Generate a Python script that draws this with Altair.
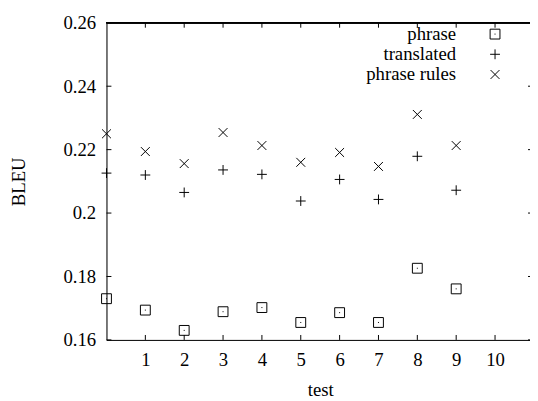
import altair as alt
import pandas as pd

tests = list(range(10))
series_names = ["phrase", "translated", "phrase rules"]
phrase = [0.1730, 0.1694, 0.1630, 0.1689, 0.1702, 0.1655, 0.1686, 0.1655, 0.1826, 0.1761]
translated = [0.2126, 0.2120, 0.2065, 0.2136, 0.2122, 0.2038, 0.2106, 0.2043, 0.2179, 0.2072]
phrase_rules = [0.2250, 0.2194, 0.2156, 0.2254, 0.2213, 0.2160, 0.2191, 0.2147, 0.2311, 0.2213]
x_ticks = [1, 2, 3, 4, 5, 6, 7, 8, 9, 10]
y_ticks = [0.16, 0.18, 0.20, 0.22, 0.24, 0.26]

W, H = 430, 322
FONT = "Liberation Serif, Times New Roman, DejaVu Serif, serif"
FS = 19

rows = []
for name, vals in zip(series_names, [phrase, translated, phrase_rules]):
    for t, v in zip(tests, vals):
        rows.append({"test": t, "BLEU": v, "series": name})
df = pd.DataFrame(rows)
xt = pd.DataFrame({"test": x_ticks})
yt = pd.DataFrame({"BLEU": y_ticks})

xs = alt.Scale(domain=[0, 10.9], nice=False, zero=False)
ys = alt.Scale(domain=[0.16, 0.26], nice=False, zero=False)

xaxis = alt.Axis(values=x_ticks, format="d", grid=False, ticks=False, tickSize=0,
                 labelPadding=26, labelBaseline="alphabetic", labelFont=FONT,
                 labelFontSize=FS, labelColor="black", domainColor="black",
                 titleFont=FONT, titleFontSize=FS, titleFontWeight="normal",
                 titleColor="black", titleX=217, titleY=56,
                 titleBaseline="alphabetic", titleAlign="center")
yaxis = alt.Axis(values=y_ticks, format="~g", grid=False, ticks=False, tickSize=0,
                 labelPadding=11, labelFont=FONT, labelFontSize=FS,
                 labelColor="black", domainColor="black",
                 titleFont=FONT, titleFontSize=FS, titleFontWeight="normal",
                 titleColor="black", titleX=-83, titleY=161, titleAngle=270,
                 titleBaseline="alphabetic", titleAlign="center")

shapes = [
    "M-1,-1L1,-1L1,1L-1,1Z M-0.1,0L0.1,0",
    "M-1,0L1,0M0,-1L0,1",
    "M-0.9,-0.9L0.9,0.9M-0.9,0.9L0.9,-0.9",
]

points = alt.Chart(df).mark_point(filled=False, size=100, strokeWidth=1, color="black", opacity=1).encode(
    x=alt.X("test:Q", scale=xs, title="test", axis=xaxis),
    y=alt.Y("BLEU:Q", scale=ys, title="BLEU", axis=yaxis),
    shape=alt.Shape("series:N", scale=alt.Scale(domain=series_names, range=shapes),
                    legend=alt.Legend(title=None, orient="none", legendX=385, legendY=2,
                                      labelAlign="right", labelOffset={"expr": "-49"},
                                      labelFont=FONT, labelFontSize=FS, labelColor="black",
                                      labelLimit=400, symbolSize=100,
                                      symbolStrokeColor="black", symbolFillColor="transparent",
                                      symbolStrokeWidth=1, rowPadding=0.5, padding=0)),
)

tick_bottom = alt.Chart(xt).mark_rule(color="black", strokeWidth=1).encode(
    x=alt.X("test:Q", scale=xs, title="test", axis=xaxis), y=alt.value(H), y2=alt.value(H - 5))
tick_top = alt.Chart(xt).mark_rule(color="black", strokeWidth=1).encode(
    x=alt.X("test:Q", scale=xs, title="test", axis=xaxis), y=alt.value(0), y2=alt.value(5))
tick_left = alt.Chart(yt).mark_rule(color="black", strokeWidth=1).encode(
    y=alt.Y("BLEU:Q", scale=ys, title="BLEU", axis=yaxis), x=alt.value(0), x2=alt.value(5))
tick_right = alt.Chart(yt).mark_rule(color="black", strokeWidth=1).encode(
    y=alt.Y("BLEU:Q", scale=ys, title="BLEU", axis=yaxis), x=alt.value(W - 2), x2=alt.value(W))
top_line = alt.Chart(xt).mark_rule(color="black", strokeWidth=1).encode(
    x=alt.value(0), x2=alt.value(W), y=alt.value(0))

chart = alt.layer(points, tick_bottom, tick_top, tick_left, tick_right, top_line).properties(
    width=W, height=H,
    padding={"left": 100, "top": 12, "right": 0, "bottom": 58},
    autosize="none",
).configure_view(stroke=None).configure(background="white")

chart.save("out.html", embed_options={"renderer": "svg", "actions": False})
